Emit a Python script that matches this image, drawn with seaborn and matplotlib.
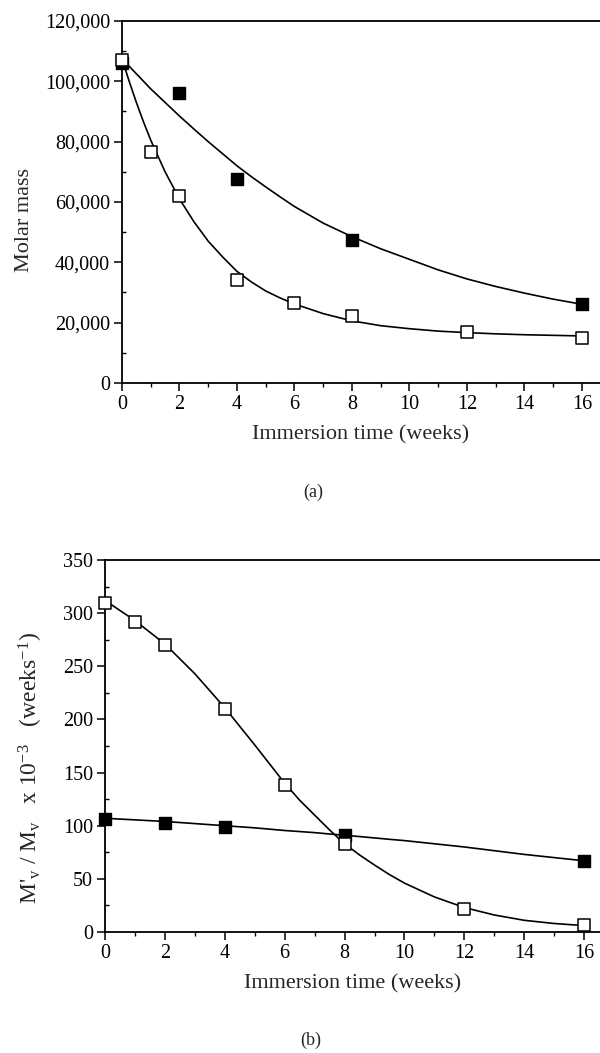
import numpy as np
import pandas as pd
import matplotlib
matplotlib.use("Agg")
import matplotlib.pyplot as plt
import seaborn as sns
from matplotlib.ticker import MultipleLocator, FuncFormatter

# ---------------- Panel (a): molar mass ----------------
a_filled_weeks = [0, 2, 4, 8, 16]
a_filled_mass = [106000, 96000, 67500, 47500, 26300]
a_open_weeks = [0, 1, 2, 4, 6, 8, 12, 16]
a_open_mass = [107000, 76500, 62000, 34200, 26500, 22300, 17000, 14900]
# fitted curves
a_fit_weeks = [0, 0.25, 0.5, 0.75, 1, 1.5, 2, 2.5, 3, 3.5, 4, 4.5, 5, 5.5, 6, 7, 8, 9, 10, 11, 12, 13, 14, 15, 16]
a_fit_filled = [107500, 105000, 102500, 100000, 97500, 93000, 88500, 84200, 80000, 76000, 72000, 68400,
                65000, 61700, 58500, 53000, 48500, 44500, 41000, 37500, 34500, 32000, 29800, 27800, 26100]
a_fit_open = [107500, 100000, 93000, 86500, 80500, 70000, 61000, 53500, 47000, 41800, 37000, 33500,
              30500, 28200, 26200, 23000, 20600, 19000, 18000, 17200, 16700, 16300, 16000, 15800, 15600]

# ---------------- Panel (b): M'v / Mv ----------------
b_filled_weeks = [0, 2, 4, 8, 16]
b_filled_val = [106, 103, 99, 91, 67]
b_open_weeks = [0, 1, 2, 4, 6, 8, 12, 16]
b_open_val = [310, 292, 270, 210, 138, 83, 22, 7]
b_fit_weeks = [0, 1, 2, 3, 4, 5, 6, 6.5, 7, 7.5, 8, 8.5, 9, 9.5, 10, 11, 12, 13, 14, 15, 16]
b_fit_filled = [107, 105.5, 104, 102, 100, 98, 95.5, 94.5, 93.5, 92.2, 91, 89.8, 88.5, 87.2,
                86, 83, 80, 76.5, 73, 70, 67]
b_fit_open = [312, 293, 271, 243, 211, 176, 140, 124, 110, 96, 83, 72.5, 63, 54, 46, 33, 23, 16, 11, 8, 6]

x_label = "Immersion time (weeks)"
a_ylabel = "Molar mass"
b_ylabel = r"M'$_{\rm v}$ / M$_{\rm v}$   x 10$^{-3}$   (weeks$^{-1}$)"

sns.set_style("ticks")
plt.rcParams["font.family"] = ["Liberation Serif", "DejaVu Serif"]
plt.rcParams["mathtext.fontset"] = "custom"
plt.rcParams["mathtext.rm"] = "Liberation Serif"
plt.rcParams["mathtext.it"] = "Liberation Serif:italic"
plt.rcParams["mathtext.bf"] = "Liberation Serif:bold"

fig = plt.figure(figsize=(6.0, 10.53), dpi=100)
ax_a = fig.add_axes([122 / 600, 1 - 383 / 1053, 478 / 600, 362 / 1053])
ax_b = fig.add_axes([105 / 600, 1 - 932 / 1053, 495 / 600, 372 / 1053])


def draw_panel(ax, fit_w, fit_f, fit_o, fw, fv, ow, ov):
    sns.lineplot(x=fit_w, y=fit_f, ax=ax, color="black", lw=1.2, estimator=None, sort=False, zorder=2)
    sns.lineplot(x=fit_w, y=fit_o, ax=ax, color="black", lw=1.2, estimator=None, sort=False, zorder=2)
    sns.scatterplot(x=fw, y=fv, ax=ax, marker="s", s=80, color="black", edgecolor="black",
                    linewidth=1.0, zorder=4, clip_on=False)
    sns.scatterplot(x=ow, y=ov, ax=ax, marker="s", s=75, facecolor="white", edgecolor="black",
                    linewidth=1.1, zorder=5, clip_on=False)


draw_panel(ax_a, a_fit_weeks, a_fit_filled, a_fit_open,
           a_filled_weeks, a_filled_mass, a_open_weeks, a_open_mass)
draw_panel(ax_b, b_fit_weeks, b_fit_filled, b_fit_open,
           b_filled_weeks, b_filled_val, b_open_weeks, b_open_val)

ax_a.set_xlim(0, 16.63)
ax_a.set_ylim(0, 120000)
ax_a.yaxis.set_major_locator(MultipleLocator(20000))
ax_a.yaxis.set_minor_locator(MultipleLocator(10000))
ax_a.yaxis.set_major_formatter(FuncFormatter(lambda v, p: f"{v:,.0f}"))

ax_b.set_xlim(0, 16.53)
ax_b.set_ylim(0, 350)
ax_b.yaxis.set_major_locator(MultipleLocator(50))
ax_b.yaxis.set_minor_locator(MultipleLocator(25))

for ax in (ax_a, ax_b):
    ax.xaxis.set_major_locator(MultipleLocator(2))
    ax.xaxis.set_minor_locator(MultipleLocator(1))
    ax.spines["right"].set_visible(False)
    for s in ("left", "bottom", "top"):
        ax.spines[s].set_linewidth(1.3)
        ax.spines[s].set_color("black")
    ax.tick_params(axis="both", which="major", direction="out", length=6, width=1.1,
                   labelsize=14.5, colors="black", pad=2.5)
    ax.tick_params(axis="both", which="minor", direction="out", length=3, width=1.0, colors="black")
    ax.tick_params(axis="y", which="minor", direction="in", length=3)
    ax.set_xlabel(x_label, fontsize=16, labelpad=8)
    ax.set_facecolor("white")

ax_a.set_ylabel(a_ylabel, fontsize=16)
ax_a.yaxis.set_label_coords(-0.184, 0.45)
ax_b.set_ylabel(b_ylabel, fontsize=17)
ax_b.yaxis.set_label_coords(-0.122, 0.44)

fig.text(313 / 600, 1 - 492 / 1053, "(a)", ha="center", va="center", fontsize=13)
fig.text(311 / 600, 1 - 1040 / 1053, "(b)", ha="center", va="center", fontsize=13)

fig.savefig("out.png", dpi=100, facecolor="white")
